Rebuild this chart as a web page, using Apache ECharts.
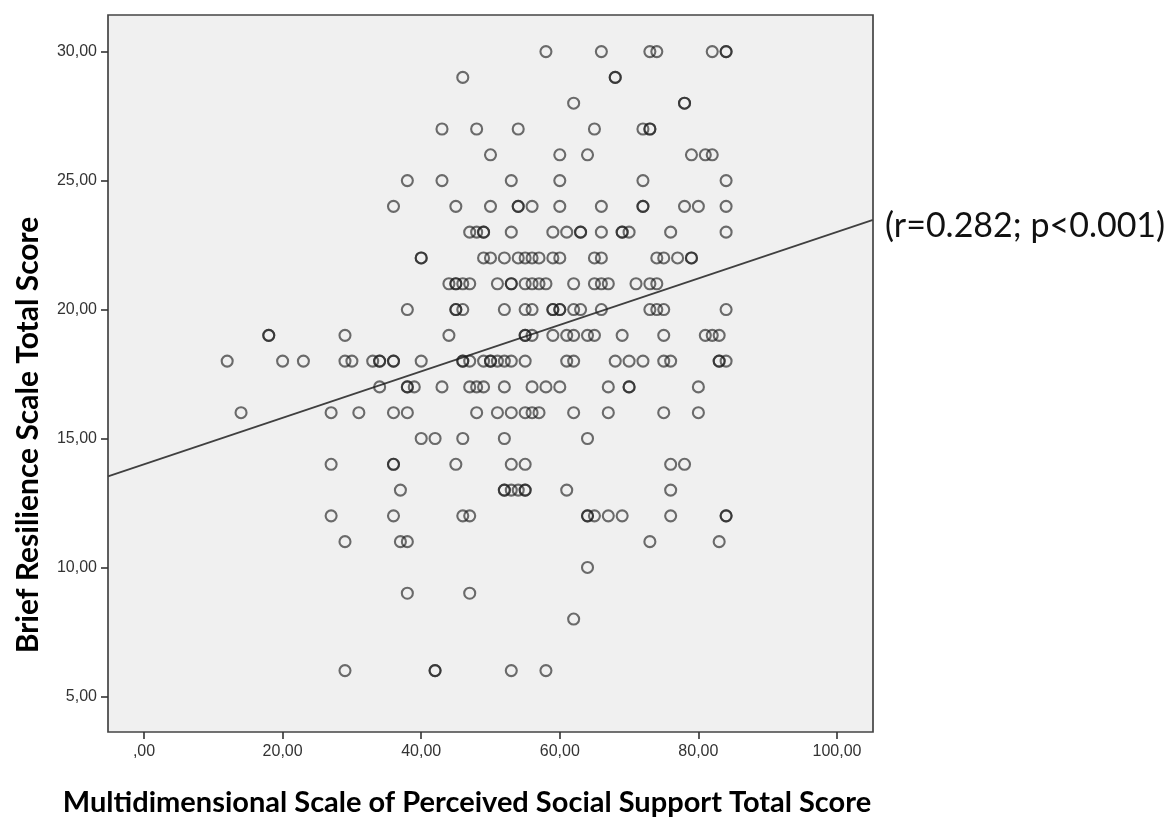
<!DOCTYPE html>
<html>
<head>
<meta charset="utf-8">
<title>Perceived Social Support vs Resilience</title>
<script src="https://cdn.jsdelivr.net/npm/echarts@6/dist/echarts.min.js"></script>
<style>
  html, body { margin: 0; padding: 0; background: #ffffff; }
  #chart { width: 1173px; height: 828px; }
</style>
</head>
<body>
<div id="chart"></div>
<script>
// Multidimensional Scale of Perceived Social Support (x) vs Brief Resilience Scale (y).
// One entry per respondent; repeated pairs are listed more than once.
const supportScores = [
  58, 66, 73, 74, 82, 84, 84,
  46, 68, 68,
  62, 78, 78,
  43, 48, 54, 65, 72, 73, 73,
  50, 60, 64, 79, 81, 82,
  38, 43, 53, 60, 72, 84,
  36, 45, 50, 54, 54, 56, 60, 66, 72, 72, 78, 80, 84,
  47, 48, 49, 49, 53, 59, 61, 63, 63, 66, 69, 69, 70, 76, 84,
  40, 40, 49, 50, 52, 54, 55, 56, 57, 59, 60, 65, 66, 74, 75, 77, 79, 79,
  44, 45, 45, 46, 47, 51, 53, 53, 55, 56, 57, 58, 62, 65, 66, 67, 71, 73, 74,
  38, 45, 45, 46, 52, 55, 56, 59, 59, 60, 60, 62, 63, 66, 73, 74, 75, 84,
  18, 18, 29, 44, 55, 55, 56, 59, 61, 62, 64, 65, 69, 75, 81, 82, 83,
  12, 20, 23, 29, 30, 33, 34, 34, 36, 36, 40, 46, 46, 47, 49, 50, 50, 51, 52, 53, 55, 61, 62, 68, 70, 72, 75, 76, 83, 83, 84,
  34, 38, 38, 39, 43, 47, 48, 49, 52, 56, 58, 60, 67, 70, 70, 80,
  14, 27, 31, 36, 38, 48, 51, 53, 55, 56, 57, 62, 67, 75, 80,
  40, 42, 46, 52, 64,
  27, 36, 36, 45, 53, 55, 76, 78,
  37, 52, 52, 53, 54, 55, 55, 61, 76,
  27, 36, 46, 47, 64, 64, 65, 67, 69, 76, 84, 84,
  29, 37, 38, 73, 83,
  64,
  38, 47,
  62,
  29, 42, 42, 53, 58
];
const resilienceScores = [
  30, 30, 30, 30, 30, 30, 30,
  29, 29, 29,
  28, 28, 28,
  27, 27, 27, 27, 27, 27, 27,
  26, 26, 26, 26, 26, 26,
  25, 25, 25, 25, 25, 25,
  24, 24, 24, 24, 24, 24, 24, 24, 24, 24, 24, 24, 24,
  23, 23, 23, 23, 23, 23, 23, 23, 23, 23, 23, 23, 23, 23, 23,
  22, 22, 22, 22, 22, 22, 22, 22, 22, 22, 22, 22, 22, 22, 22, 22, 22, 22,
  21, 21, 21, 21, 21, 21, 21, 21, 21, 21, 21, 21, 21, 21, 21, 21, 21, 21, 21,
  20, 20, 20, 20, 20, 20, 20, 20, 20, 20, 20, 20, 20, 20, 20, 20, 20, 20,
  19, 19, 19, 19, 19, 19, 19, 19, 19, 19, 19, 19, 19, 19, 19, 19, 19,
  18, 18, 18, 18, 18, 18, 18, 18, 18, 18, 18, 18, 18, 18, 18, 18, 18, 18, 18, 18, 18, 18, 18, 18, 18, 18, 18, 18, 18, 18, 18,
  17, 17, 17, 17, 17, 17, 17, 17, 17, 17, 17, 17, 17, 17, 17, 17,
  16, 16, 16, 16, 16, 16, 16, 16, 16, 16, 16, 16, 16, 16, 16,
  15, 15, 15, 15, 15,
  14, 14, 14, 14, 14, 14, 14, 14,
  13, 13, 13, 13, 13, 13, 13, 13, 13,
  12, 12, 12, 12, 12, 12, 12, 12, 12, 12, 12, 12,
  11, 11, 11, 11, 11,
  10,
  9, 9,
  8,
  6, 6, 6, 6, 6
];

// Axis ticks
const xTicks = [0, 20, 40, 60, 80, 100];
const yTicks = [5, 10, 15, 20, 25, 30];

// Linear fit (support -> resilience)
const fitIntercept = 14.0;
const fitSlope = 0.0901;
const fitLabel = '(r=0.282; p<0.001)';

const xTitle = 'Multidimensional Scale of Perceived Social Support Total Score';
const yTitle = 'Brief Resilience Scale Total Score';

// Axis extents
const xMin = -5.2, xMax = 105.2;
const yMin = 3.62, yMax = 31.42;

const points = supportScores.map((x, i) => [x, resilienceScores[i]]);
const fitLine = [xMin, xMax].map(x => [x, fitIntercept + fitSlope * x]);

// Decimal comma labels: 0 -> ",00", 20 -> "20,00"
const fmt = v => (v === 0 ? ',00' : v.toFixed(2).replace('.', ','));

const chart = echarts.init(document.getElementById('chart'), null, { renderer: 'canvas' });

const labelFont = { color: '#333333', fontFamily: 'Liberation Sans, Arial, sans-serif', fontSize: 16 };
const tickStyle = { color: '#333333', width: 1.6 };

chart.setOption({
  animation: false,
  backgroundColor: '#ffffff',
  grid: {
    left: 108, right: 300, top: 15, bottom: 96,
    show: true,
    backgroundColor: '#f0f0f0',
    borderColor: '#444444',
    borderWidth: 1.7
  },
  xAxis: {
    type: 'value',
    min: xMin, max: xMax,
    position: 'bottom',
    axisLine: { show: false, onZero: false },
    splitLine: { show: false },
    axisTick: { show: true, customValues: xTicks, length: 7, inside: false, lineStyle: tickStyle },
    axisLabel: { show: true, customValues: xTicks, margin: 12, formatter: fmt, ...labelFont }
  },
  yAxis: {
    type: 'value',
    min: yMin, max: yMax,
    position: 'left',
    axisLine: { show: false, onZero: false },
    splitLine: { show: false },
    axisTick: { show: true, customValues: yTicks, length: 7, inside: false, lineStyle: tickStyle },
    axisLabel: { show: true, customValues: yTicks, margin: 11, formatter: fmt, ...labelFont }
  },
  series: [
    {
      type: 'scatter',
      data: points,
      symbol: 'circle',
      symbolSize: 11,
      itemStyle: {
        color: 'rgba(0,0,0,0)',
        borderColor: 'rgba(30,30,30,0.8)',
        borderWidth: 2.1
      },
      emphasis: { disabled: true },
      z: 3
    },
    {
      type: 'line',
      data: fitLine,
      showSymbol: false,
      clip: true,
      lineStyle: { color: '#404040', width: 1.7 },
      emphasis: { disabled: true },
      z: 2
    }
  ],
  graphic: [
    {
      type: 'text',
      x: 885, y: 226,
      style: {
        text: fitLabel,
        fill: '#111',
        verticalAlign: 'middle',
        font: '34px Lato, "Open Sans", sans-serif'
      }
    },
    {
      type: 'text',
      x: 467, y: 803,
      style: {
        text: xTitle,
        fill: '#000',
        align: 'center',
        verticalAlign: 'middle',
        font: 'bold 29px Lato, "Open Sans", sans-serif'
      }
    },
    {
      type: 'text',
      x: 28, y: 435,
      rotation: Math.PI / 2,
      style: {
        text: yTitle,
        fill: '#000',
        align: 'center',
        verticalAlign: 'middle',
        font: 'bold 30px Lato, "Open Sans", sans-serif'
      }
    }
  ]
});
</script>
</body>
</html>
